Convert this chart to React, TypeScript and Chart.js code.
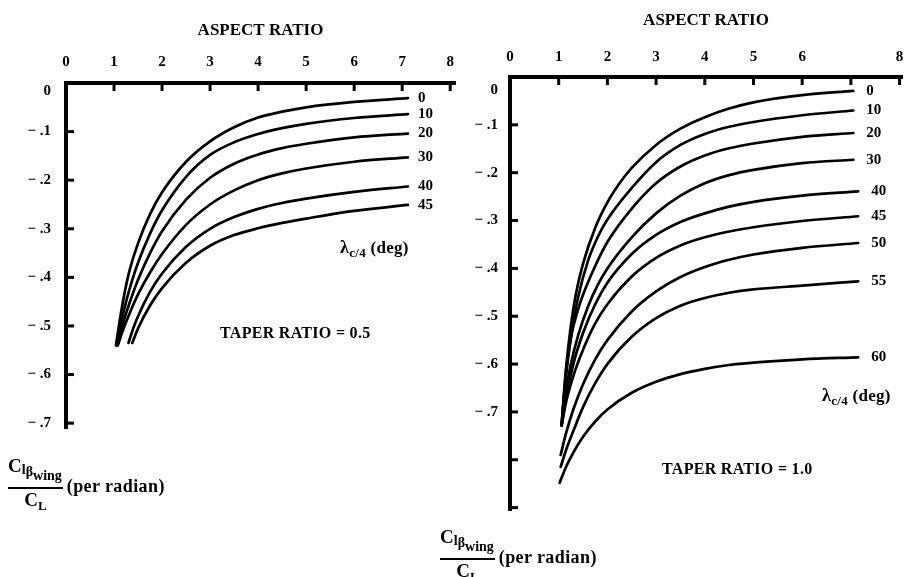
import React, { useEffect, useRef } from "react";
import { Chart, registerables } from "chart.js";

Chart.register(...registerables);

const FONT = '"Liberation Serif", "Times New Roman", serif';

type Pt = [number, number];

// ---------- Axis tick labels ----------
const leftAspectLabels = ["0", "1", "2", "3", "4", "5", "6", "7", "8"];
const rightAspectLabels = ["0", "1", "2", "3", "4", "5", "6", "", "8"];
const leftYLabels = ["", "− .1", "− .2", "− .3", "− .4", "− .5", "− .6", "− .7"];
const rightYLabels = ["", "− .1", "− .2", "− .3", "− .4", "− .5", "− .6", "− .7", "", ""];

// ---------- Taper ratio = 0.5 : [aspect ratio, Clβ/CL] ----------
const leftSweeps = ["0", "10", "20", "30", "40", "45"];
const left0: Pt[] = [[1.04, -0.54], [1.15, -0.47], [1.3, -0.395], [1.5, -0.33], [1.75, -0.27], [2, -0.225], [2.5, -0.162], [3, -0.12], [3.5, -0.091], [4, -0.071], [4.5, -0.059], [5, -0.05], [6, -0.039], [7.12, -0.031]];
const left10: Pt[] = [[1.05, -0.54], [1.2, -0.47], [1.35, -0.415], [1.5, -0.37], [1.75, -0.31], [2, -0.262], [2.5, -0.193], [3, -0.148], [3.5, -0.122], [4, -0.105], [4.5, -0.093], [5, -0.084], [6, -0.072], [7.12, -0.064]];
const left20: Pt[] = [[1.06, -0.54], [1.2, -0.49], [1.35, -0.445], [1.5, -0.405], [1.75, -0.35], [2, -0.305], [2.5, -0.24], [3, -0.195], [3.5, -0.166], [4, -0.147], [4.5, -0.134], [5, -0.125], [6, -0.112], [7.12, -0.104]];
const left30: Pt[] = [[1.08, -0.54], [1.2, -0.505], [1.35, -0.468], [1.5, -0.435], [1.75, -0.39], [2, -0.352], [2.5, -0.292], [3, -0.25], [3.5, -0.221], [4, -0.2], [4.5, -0.186], [5, -0.176], [6, -0.162], [7.12, -0.153]];
const left40: Pt[] = [[1.3, -0.535], [1.4, -0.505], [1.5, -0.48], [1.75, -0.43], [2, -0.392], [2.5, -0.337], [3, -0.3], [3.5, -0.276], [4, -0.259], [4.5, -0.247], [5, -0.238], [6, -0.224], [7.12, -0.213]];
const left45: Pt[] = [[1.38, -0.535], [1.5, -0.505], [1.75, -0.458], [2, -0.422], [2.5, -0.37], [3, -0.335], [3.5, -0.313], [4, -0.299], [4.5, -0.288], [5, -0.279], [6, -0.263], [7.12, -0.251]];

// ---------- Taper ratio = 1.0 ----------
const rightSweeps = ["0", "10", "20", "30", "40", "45", "50", "55", "60"];
const right0: Pt[] = [[1.06, -0.728], [1.15, -0.61], [1.25, -0.52], [1.35, -0.455], [1.5, -0.39], [1.75, -0.315], [2, -0.262], [2.25, -0.222], [2.5, -0.19], [3, -0.142], [3.5, -0.108], [4, -0.084], [4.5, -0.066], [5, -0.053], [6, -0.038], [7.05, -0.029]];
const right10: Pt[] = [[1.06, -0.728], [1.15, -0.625], [1.25, -0.545], [1.4, -0.46], [1.6, -0.385], [1.8, -0.335], [2, -0.298], [2.5, -0.232], [3, -0.178], [3.5, -0.142], [4, -0.119], [4.5, -0.104], [5, -0.094], [6, -0.08], [7.05, -0.07]];
const right20: Pt[] = [[1.06, -0.728], [1.15, -0.615], [1.25, -0.545], [1.4, -0.485], [1.5, -0.455], [1.75, -0.395], [2, -0.345], [2.5, -0.275], [3, -0.222], [3.5, -0.187], [4, -0.164], [4.5, -0.149], [5, -0.139], [6, -0.125], [7.05, -0.117]];
const right30: Pt[] = [[1.06, -0.728], [1.15, -0.655], [1.25, -0.6], [1.4, -0.54], [1.6, -0.48], [1.8, -0.435], [2, -0.4], [2.5, -0.335], [3, -0.285], [3.5, -0.248], [4, -0.222], [4.5, -0.205], [5, -0.194], [6, -0.18], [7.05, -0.173]];
const right40: Pt[] = [[1.06, -0.728], [1.15, -0.67], [1.3, -0.6], [1.5, -0.535], [1.75, -0.475], [2, -0.43], [2.5, -0.37], [3, -0.33], [3.5, -0.303], [4, -0.285], [4.5, -0.271], [5, -0.261], [6, -0.248], [7.15, -0.239]];
const right45: Pt[] = [[1.06, -0.728], [1.15, -0.68], [1.3, -0.625], [1.5, -0.57], [1.75, -0.515], [2, -0.475], [2.5, -0.417], [3, -0.378], [3.5, -0.352], [4, -0.335], [4.5, -0.323], [5, -0.314], [6, -0.301], [7.15, -0.291]];
const right50: Pt[] = [[1.04, -0.79], [1.15, -0.745], [1.3, -0.695], [1.5, -0.642], [1.75, -0.59], [2, -0.55], [2.5, -0.49], [3, -0.448], [3.5, -0.418], [4, -0.397], [4.5, -0.382], [5, -0.371], [6, -0.357], [7.15, -0.347]];
const right55: Pt[] = [[1.04, -0.815], [1.15, -0.78], [1.3, -0.74], [1.5, -0.69], [1.75, -0.64], [2, -0.6], [2.5, -0.543], [3, -0.504], [3.5, -0.478], [4, -0.462], [4.5, -0.451], [5, -0.444], [6, -0.436], [7.15, -0.427]];
const right60: Pt[] = [[1.02, -0.848], [1.15, -0.815], [1.3, -0.785], [1.5, -0.752], [1.75, -0.72], [2, -0.695], [2.5, -0.66], [3, -0.637], [3.5, -0.621], [4, -0.61], [4.5, -0.602], [5, -0.597], [6, -0.59], [7.15, -0.586]];

const leftSeries = [left0, left10, left20, left30, left40, left45];
const rightSeries = [right0, right10, right20, right30, right40, right45, right50, right55, right60];

interface Panel {
  series: Pt[][];
  sweeps: string[];
  xLabels: string[];
  yLabels: string[];
  xMax: number;
  yMin: number;
  left: number;
  top: number;
  padRight: number;
  padBottom: number;
  titlePad: number;
  xTickPad: number;
  yTickPad: number;
  labelDx: number;
  zeroDy: number;
}

const leftPanel: Panel = {
  series: leftSeries, sweeps: leftSweeps, xLabels: leftAspectLabels, yLabels: leftYLabels,
  xMax: 8.1, yMin: -0.71, left: 66, top: 83, padRight: 449, padBottom: 149,
  titlePad: 20, xTickPad: 12, yTickPad: 15, labelDx: 10, zeroDy: 8,
};
const rightPanel: Panel = {
  series: rightSeries, sweeps: rightSweeps, xLabels: rightAspectLabels, yLabels: rightYLabels,
  xMax: 8.05, yMin: -0.905, left: 510, top: 77, padRight: 2, padBottom: 67,
  titlePad: 10, xTickPad: 11, yTickPad: 12, labelDx: 13, zeroDy: 13,
};

// Inward tick marks + the offset "0" label at the corner
const innerTicks = {
  id: "innerTicks",
  afterDraw(chart: any, _a: any, opts: any) {
    const { ctx, chartArea } = chart;
    const xs = chart.scales.x;
    const ys = chart.scales.y;
    ctx.save();
    ctx.strokeStyle = "#000";
    ctx.lineWidth = 3;
    xs.ticks.forEach((t: any) => {
      if (Math.abs(t.value) < 1e-9) return;
      const px = xs.getPixelForValue(t.value);
      ctx.beginPath();
      ctx.moveTo(px, chartArea.top);
      ctx.lineTo(px, chartArea.top + 8);
      ctx.stroke();
    });
    ys.ticks.forEach((t: any) => {
      if (Math.abs(t.value) < 1e-9) return;
      const py = ys.getPixelForValue(t.value);
      ctx.beginPath();
      ctx.moveTo(chartArea.left, py);
      ctx.lineTo(chartArea.left + 8, py);
      ctx.stroke();
    });
    ctx.fillStyle = "#000";
    ctx.font = `bold 15px ${FONT}`;
    ctx.textAlign = "right";
    ctx.textBaseline = "middle";
    ctx.fillText("0", chartArea.left - opts.pad, ys.getPixelForValue(0) + opts.zeroDy);
    ctx.restore();
  },
};

// Sweep-angle labels at the end of each curve
const curveLabels = {
  id: "curveLabels",
  afterDatasetsDraw(chart: any, _a: any, opts: any) {
    const { ctx } = chart;
    ctx.save();
    ctx.fillStyle = "#000";
    ctx.font = `bold 15px ${FONT}`;
    ctx.textAlign = "left";
    ctx.textBaseline = "middle";
    chart.data.datasets.forEach((ds: any, i: number) => {
      const meta = chart.getDatasetMeta(i);
      const pt = meta.data[meta.data.length - 1];
      if (pt) ctx.fillText(ds.label, pt.x + opts.dx, pt.y);
    });
    ctx.restore();
  },
};

function buildConfig(p: Panel): any {
  const tickFont = { family: FONT, size: 15, weight: "bold" };
  return {
    type: "line",
    data: {
      datasets: p.series.map((s, i) => ({
        label: p.sweeps[i],
        data: s.map(([x, y]) => ({ x, y })),
        borderColor: "#000",
        borderWidth: 2.7,
        pointRadius: 0,
        fill: false,
        cubicInterpolationMode: "monotone",
        borderCapStyle: "round",
        borderJoinStyle: "round",
      })),
    },
    options: {
      responsive: false,
      animation: false,
      events: [],
      layout: { padding: { left: 0, top: 0, right: p.padRight, bottom: p.padBottom } },
      plugins: {
        legend: { display: false },
        tooltip: { enabled: false },
        curveLabels: { dx: p.labelDx },
        innerTicks: { pad: p.yTickPad, zeroDy: p.zeroDy },
      },
      scales: {
        x: {
          type: "linear",
          position: "top",
          min: 0,
          max: p.xMax,
          grid: { display: false, drawTicks: false },
          border: { display: true, color: "#000", width: 4 },
          ticks: {
            stepSize: 1,
            includeBounds: false,
            autoSkip: false,
            maxRotation: 0,
            padding: p.xTickPad,
            color: "#000",
            font: tickFont,
            callback: (v: number) => p.xLabels[Math.round(v)] ?? "",
          },
          title: {
            display: true,
            text: "ASPECT RATIO",
            color: "#000",
            font: { family: FONT, size: 17, weight: "bold" },
            padding: { top: p.titlePad, bottom: 0 },
          },
          afterFit: (s: any) => {
            s.height = p.top;
            s.paddingLeft = 0;
            s.paddingRight = 0;
          },
        },
        y: {
          type: "linear",
          position: "left",
          min: p.yMin,
          max: 0,
          grid: { display: false, drawTicks: false },
          border: { display: true, color: "#000", width: 4 },
          ticks: {
            stepSize: 0.1,
            includeBounds: false,
            autoSkip: false,
            padding: p.yTickPad,
            color: "#000",
            font: tickFont,
            callback: (v: number) => p.yLabels[Math.round(-v * 10)] ?? "",
          },
          afterFit: (s: any) => {
            s.width = p.left;
            s.paddingTop = 0;
            s.paddingBottom = 0;
          },
        },
      },
    },
    plugins: [innerTicks, curveLabels],
  };
}

function PanelCanvas({ panel }: { panel: Panel }) {
  const ref = useRef<HTMLCanvasElement | null>(null);
  useEffect(() => {
    if (!ref.current) return;
    const chart = new Chart(ref.current, buildConfig(panel));
    return () => chart.destroy();
  }, [panel]);
  return (
    <canvas
      ref={ref}
      width={904}
      height={577}
      style={{ position: "absolute", left: 0, top: 0, width: 904, height: 577 }}
    />
  );
}

const textBase: React.CSSProperties = {
  position: "absolute",
  fontFamily: FONT,
  fontWeight: "bold",
  color: "#000",
  whiteSpace: "nowrap",
};

function YTitle({ left, top }: { left: number; top: number }) {
  return (
    <div style={{ ...textBase, left, top, display: "flex", alignItems: "flex-start" }}>
      <div style={{ display: "inline-flex", flexDirection: "column", alignItems: "center" }}>
        <div style={{ fontSize: 19, lineHeight: "20px", paddingBottom: 9, paddingRight: 1 }}>
          C
          <span style={{ fontSize: 14, position: "relative", top: 2 }}>l</span>
          <span style={{ fontSize: 14, position: "relative", top: 4 }}>β</span>
          <span style={{ fontSize: 14, position: "relative", top: 8 }}>wing</span>
        </div>
        <div style={{ borderTop: "2px solid #000", alignSelf: "stretch" }} />
        <div style={{ fontSize: 19, lineHeight: "21px" }}>
          C<span style={{ fontSize: 13, position: "relative", top: 4 }}>L</span>
        </div>
      </div>
      <div style={{ fontSize: 18, lineHeight: "20px", marginLeft: 4, marginTop: 20, letterSpacing: 0.4 }}>
        (per radian)
      </div>
    </div>
  );
}

function Lambda({ left, top }: { left: number; top: number }) {
  return (
    <div style={{ ...textBase, left, top, fontSize: 17, lineHeight: "18px", letterSpacing: 0.3 }}>
      <span style={{ fontSize: 18 }}>λ</span>
      <span style={{ fontSize: 13, position: "relative", top: 4 }}>c/4</span> (deg)
    </div>
  );
}

export default function App() {
  return (
    <div
      style={{
        position: "fixed",
        left: 0,
        top: 0,
        width: 904,
        height: 577,
        background: "#fff",
        overflow: "hidden",
      }}
    >
      <PanelCanvas panel={leftPanel} />
      <PanelCanvas panel={rightPanel} />
      <Lambda left={340} top={238} />
      <Lambda left={822} top={386} />
      <div style={{ ...textBase, left: 220, top: 324, fontSize: 16, lineHeight: "18px", letterSpacing: 0.3 }}>
        TAPER RATIO = 0.5
      </div>
      <div style={{ ...textBase, left: 662, top: 460, fontSize: 16, lineHeight: "18px", letterSpacing: 0.3 }}>
        TAPER RATIO = 1.0
      </div>
      <YTitle left={8} top={456} />
      <YTitle left={440} top={527} />
    </div>
  );
}
